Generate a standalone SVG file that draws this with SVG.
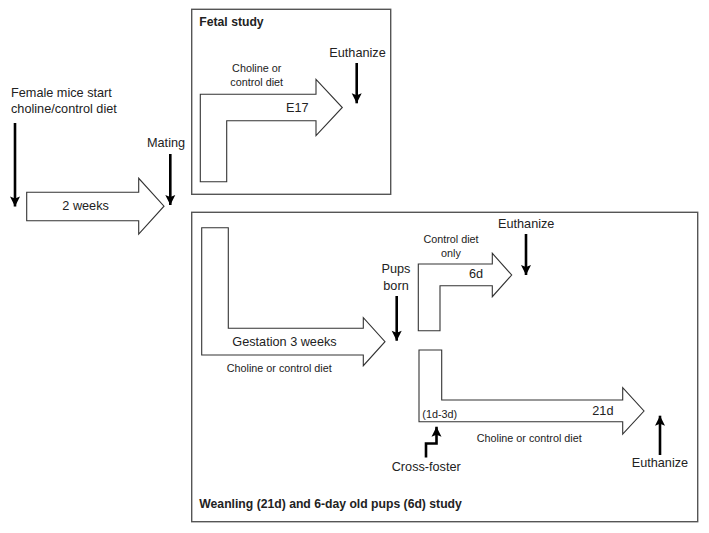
<svg xmlns="http://www.w3.org/2000/svg" width="709" height="533" viewBox="0 0 709 533">
<style>
  .box { fill: none; stroke: #555; stroke-width: 1.4; }
  .blk { fill: #fff; stroke: #333; stroke-width: 1.1; stroke-linejoin: miter; }
  .ln { fill: none; stroke: #000; stroke-width: 2.6; marker-end: url(#ah); }
  text { font-family: "Liberation Sans", Arial, sans-serif; fill: #222; }
  .m { font-size: 12.7px; }
  .s { font-size: 10.8px; }
  .b { font-size: 12.2px; font-weight: bold; }
</style>
<defs>
  <marker id="ah" markerUnits="userSpaceOnUse" markerWidth="12" markerHeight="12" viewBox="0 0 12 12" refX="11" refY="6" orient="auto">
    <path d="M1,1 L11,6 L1,11 L3,6 Z" fill="#000"/>
  </marker>
</defs>
<rect width="709" height="533" fill="#fff"/>

<g id="fetal-box">
  <rect class="box" x="191.7" y="9.3" width="199" height="185"/>
  <text class="b" x="199.3" y="26">Fetal study</text>
</g>
<g id="weanling-box">
  <rect class="box" x="191.7" y="212.3" width="506" height="309.4"/>
  <text class="b" x="199.3" y="508.3">Weanling (21d) and 6-day old pups (6d) study</text>
</g>

<g id="start">
  <text class="m" x="11" y="96.7">Female mice start</text>
  <text class="m" x="11" y="113">choline/control diet</text>
</g>
<g id="two-weeks">
  <polygon class="blk" points="26.7,192.3 138.7,192.3 138.7,178.3 164,206.2 138.7,234 138.7,220.7 26.7,220.7"/>
  <text class="m" x="62.3" y="210">2 weeks</text>
</g>
<g id="mating">
  <text class="m" x="147" y="146.7">Mating</text>
</g>

<g id="fetal-arrow">
  <polygon class="blk" points="200.3,181.7 200.3,94.3 316,94.3 316,79.3 342.3,107.5 316,135.7 316,120.7 226.7,120.7 226.7,181.7"/>
  <text class="s" x="256.7" y="72" text-anchor="middle">Choline or</text>
  <text class="s" x="256.7" y="86" text-anchor="middle">control  diet</text>
  <text class="m" x="286" y="111.5">E17</text>
</g>
<g id="fetal-euthanize">
  <text class="m" x="329.3" y="57.3">Euthanize</text>
</g>

<g id="gestation">
  <polygon class="blk" points="201.7,227.7 228.3,227.7 228.3,328.3 363.3,328.3 363.3,317.7 385,341.7 363.3,365.7 363.3,355 201.7,355"/>
  <text class="m" x="232.3" y="346">Gestation 3 weeks</text>
  <text class="s" x="226.7" y="371.7">Choline or control  diet</text>
</g>
<g id="pups-born">
  <text class="m" x="396" y="273" text-anchor="middle">Pups</text>
  <text class="m" x="396" y="290" text-anchor="middle">born</text>
</g>

<g id="six-day">
  <polygon class="blk" points="418.3,330.7 418.3,264 492.3,264 492.3,253.3 511.7,275 492.3,296.7 492.3,285.7 440,285.7 440,330.7"/>
  <text class="s" x="451" y="242.7" text-anchor="middle">Control diet</text>
  <text class="s" x="451" y="256.7" text-anchor="middle">only</text>
  <text class="m" x="469" y="278">6d</text>
</g>
<g id="six-day-euthanize">
  <text class="m" x="498" y="228">Euthanize</text>
</g>

<g id="twentyone-day">
  <polygon class="blk" points="419,350 441.7,350 441.7,400 622.7,400 622.7,387.7 644,411 622.7,434 622.7,421.7 419,421.7"/>
  <text class="s" x="422.3" y="418.3">(1d-3d)</text>
  <text class="m" x="592.3" y="415">21d</text>
  <text class="s" x="476.7" y="442.3">Choline or control  diet</text>
</g>
<g id="cross-foster">
  <text class="m" x="391.7" y="471">Cross-foster</text>
</g>
<g id="weanling-euthanize">
  <text class="m" x="631.7" y="467.3">Euthanize</text>
</g>

<g id="connectors">
  <path class="ln" d="M15,123 V206.5"/>
  <path class="ln" d="M170.3,154 V205"/>
  <path class="ln" d="M356.7,63 V103.3"/>
  <path class="ln" d="M396.7,296 V340.7"/>
  <path class="ln" d="M526,234 V275"/>
  <path class="ln" d="M660,455 V415.7"/>
  <path class="ln" d="M426,457.5 V443.5 H436.5 V426.7" stroke-linejoin="miter"/>
</g>
</svg>
